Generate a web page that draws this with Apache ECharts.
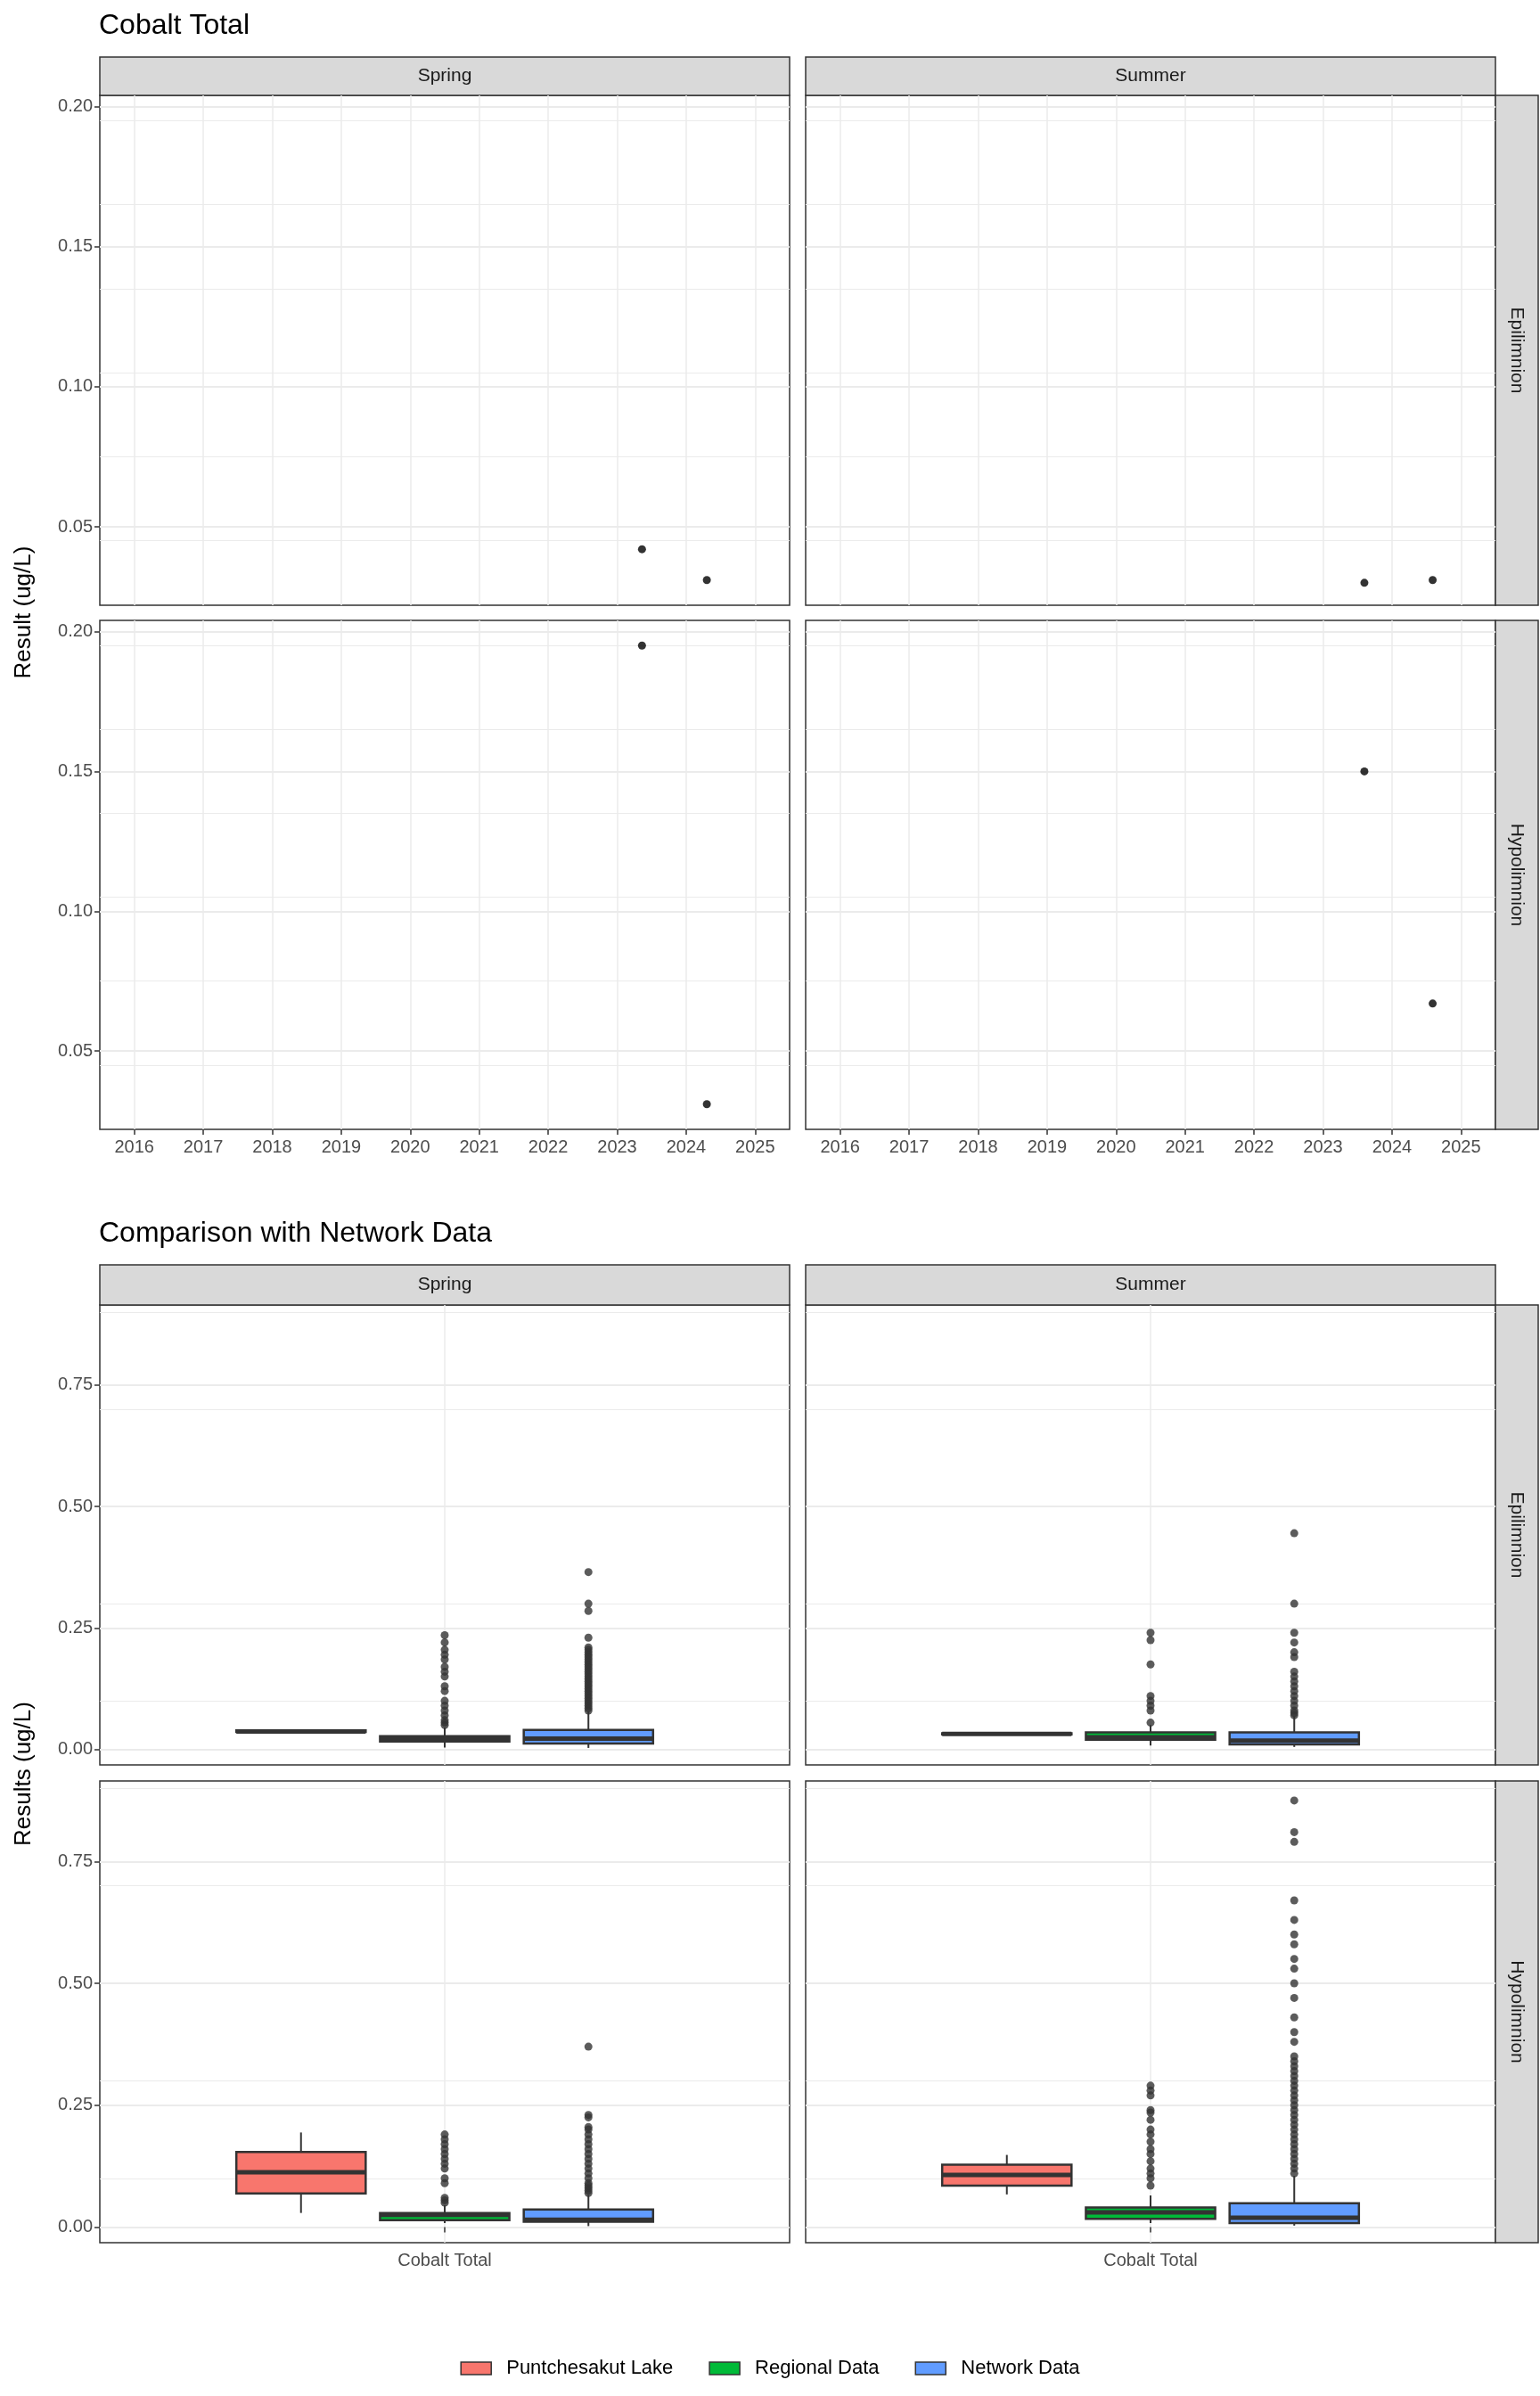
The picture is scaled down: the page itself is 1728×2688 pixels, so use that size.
<!DOCTYPE html>
<html lang="en">
<head>
<meta charset="UTF-8">
<title>Cobalt Total</title>
<script src="https://cdn.jsdelivr.net/npm/echarts@6/dist/echarts.min.js"></script>
<style>
  html, body { margin: 0; padding: 0; background: #fff; }
  #chart { width: 1728px; height: 2688px; }
</style>
</head>
<body>
<div id="chart"></div>
<script>
// ---- data ----
var seasons = ['Spring', 'Summer'];
var layers = ['Epilimnion', 'Hypolimnion'];
var groups = ['Puntchesakut Lake', 'Regional Data', 'Network Data'];
var groupColors = ['#F8766D', '#00BA38', '#619CFF'];
var groupPos = [0.75, 1.0, 1.25];
var yearLabels = [2016, 2017, 2018, 2019, 2020, 2021, 2022, 2023, 2024, 2025];
var topTicks = [0.05, 0.10, 0.15, 0.20];
var bottomTicks = [0, 0.25, 0.5, 0.75];

// time series points [decimal year, value], order: SpEpi, SuEpi, SpHyp, SuHyp
var ptsSpringEpi = [[2023.36, 0.042], [2024.30, 0.031]];
var ptsSummerEpi = [[2023.60, 0.030], [2024.59, 0.031]];
var ptsSpringHyp = [[2023.36, 0.195], [2024.30, 0.031]];
var ptsSummerHyp = [[2023.60, 0.150], [2024.59, 0.067]];

// box stats [low whisker, q1, median, q3, high whisker] per group
var boxSpringEpi = [[0.036, 0.036, 0.037, 0.039, 0.039], [0.004, 0.016, 0.022, 0.027, 0.045], [0.003, 0.012, 0.022, 0.040, 0.078]];
var boxSummerEpi = [[0.031, 0.031, 0.032, 0.033, 0.033], [0.008, 0.020, 0.025, 0.035, 0.050], [0.005, 0.010, 0.018, 0.035, 0.068]];
var boxSpringHyp = [[0.029, 0.069, 0.1125, 0.154, 0.194], [0.008, 0.014, 0.025, 0.029, 0.045], [0.002, 0.011, 0.015, 0.036, 0.066]];
var boxSummerHyp = [[0.067, 0.085, 0.107, 0.128, 0.148], [0.008, 0.017, 0.030, 0.040, 0.065], [0.003, 0.008, 0.019, 0.049, 0.105]];

// outliers per group (lake has none)
var outSpringEpi = [[], [0.05, 0.055, 0.06, 0.07, 0.08, 0.09, 0.1, 0.12, 0.13, 0.15, 0.16, 0.17, 0.185, 0.195, 0.205, 0.22, 0.235],
  [0.08, 0.085, 0.09, 0.095, 0.1, 0.105, 0.11, 0.115, 0.12, 0.125, 0.13, 0.135, 0.14, 0.145, 0.15, 0.155, 0.16, 0.165, 0.17, 0.175, 0.18, 0.185, 0.19, 0.195, 0.2, 0.205, 0.21, 0.23, 0.285, 0.3, 0.365]];
var outSummerEpi = [[], [0.055, 0.08, 0.09, 0.1, 0.11, 0.175, 0.225, 0.24],
  [0.07, 0.075, 0.08, 0.09, 0.1, 0.11, 0.12, 0.13, 0.14, 0.15, 0.16, 0.19, 0.2, 0.22, 0.24, 0.3, 0.445]];
var outSpringHyp = [[], [0.05, 0.055, 0.06, 0.09, 0.1, 0.12, 0.13, 0.14, 0.15, 0.16, 0.17, 0.18, 0.19],
  [0.07, 0.075, 0.08, 0.085, 0.09, 0.1, 0.11, 0.12, 0.13, 0.14, 0.15, 0.16, 0.17, 0.18, 0.19, 0.2, 0.205, 0.225, 0.23, 0.37]];
var outSummerHyp = [[], [0.085, 0.1, 0.11, 0.12, 0.135, 0.15, 0.16, 0.175, 0.19, 0.2, 0.22, 0.235, 0.24, 0.27, 0.28, 0.29],
  [0.11, 0.12, 0.13, 0.14, 0.15, 0.16, 0.17, 0.18, 0.19, 0.2, 0.21, 0.22, 0.23, 0.24, 0.25, 0.26, 0.27, 0.28, 0.29, 0.3, 0.31, 0.32, 0.33, 0.34, 0.35,
   0.38, 0.4, 0.43, 0.47, 0.5, 0.53, 0.55, 0.58, 0.6, 0.63, 0.67, 0.79, 0.81, 0.875]];

var ptsFacets = [ptsSpringEpi, ptsSummerEpi, ptsSpringHyp, ptsSummerHyp];
var boxFacets = [boxSpringEpi, boxSummerEpi, boxSpringHyp, boxSummerHyp];
var outFacets = [outSpringEpi, outSummerEpi, outSpringHyp, outSummerHyp];

// ---- layout ----
var colX = [[112, 886], [904, 1678]];
var topRows = [[107, 679], [696, 1267]];
var botRows = [[1464, 1980], [1998, 2516]];
var FONT = 'Liberation Sans, Arial, sans-serif';
var gridColor = '#ebebeb';

var grids = [], xAxes = [], yAxes = [], series = [], graphics = [];

function addGrid(c, r) {
  grids.push({ left: c[0], top: r[0], width: c[1] - c[0], height: r[1] - r[0],
    show: true, borderColor: '#333', borderWidth: 1.5, backgroundColor: '#fff' });
  return grids.length - 1;
}

function yAxisCfg(gi, min, max, ticks, showLabels) {
  return {
    type: 'value', gridIndex: gi, min: min, max: max,
    axisLine: { show: false },
    axisTick: { show: showLabels, length: 6, lineStyle: { color: '#333', width: 1.5 }, customValues: ticks },
    axisLabel: { show: showLabels, customValues: ticks, color: '#4d4d4d', fontSize: 20, fontFamily: FONT,
      formatter: function (v) { return v.toFixed(2); } },
    splitLine: { show: true, lineStyle: { color: gridColor, width: 2 } },
    minorTick: { show: false, splitNumber: 2 },
    minorSplitLine: { show: true, lineStyle: { color: gridColor, width: 1 } }
  };
}

for (var r = 0; r < 2; r++) {
  for (var c = 0; c < 2; c++) {
    var f = r * 2 + c;
    // ---- top: time series ----
    var gi = addGrid(colX[c], topRows[r]);
    xAxes.push({
      type: 'value', gridIndex: gi, min: 2015.5, max: 2025.5, interval: 0.5,
      axisLine: { show: false },
      axisTick: { show: r === 1, length: 6, lineStyle: { color: '#333', width: 1.5 }, customValues: yearLabels },
      axisLabel: { show: r === 1, customValues: yearLabels, color: '#4d4d4d', fontSize: 20, fontFamily: FONT, margin: 10,
        formatter: function (v) { return String(Math.round(v)); } },
      splitLine: { show: true, lineStyle: { color: gridColor, width: 1.5 } }
    });
    yAxes.push(yAxisCfg(gi, 0.022, 0.204, topTicks, c === 0));
    series.push({ type: 'scatter', xAxisIndex: gi, yAxisIndex: gi, data: ptsFacets[f],
      symbolSize: 9, itemStyle: { color: '#000' }, silent: true });

    // ---- bottom: box plots ----
    var gb = addGrid(colX[c], botRows[r]);
    xAxes.push({
      type: 'value', gridIndex: gb, min: 0.4, max: 1.6,
      axisLine: { show: false },
      axisTick: { show: r === 1, length: 6, lineStyle: { color: '#333', width: 1.5 }, customValues: [1] },
      axisLabel: { show: r === 1, customValues: [1], color: '#4d4d4d', fontSize: 20, fontFamily: FONT, margin: 10,
        formatter: function () { return 'Cobalt Total'; } },
      splitLine: { show: true, lineStyle: { color: gridColor, width: 1.5 } }
    });
    yAxes.push(yAxisCfg(gb, -0.032, 0.915, bottomTicks, c === 0));

    for (var g = 0; g < 3; g++) {
      var b = boxFacets[f][g];
      series.push({
        type: 'custom', name: groups[g], xAxisIndex: gb, yAxisIndex: gb,
        itemStyle: { color: groupColors[g] },
        data: [[groupPos[g]].concat(b)],
        encode: { x: 0, y: [1, 2, 3, 4, 5] },
        renderItem: function (params, api) {
          var x = api.value(0);
          var lo = api.coord([x, api.value(1)]), q1 = api.coord([x, api.value(2)]);
          var md = api.coord([x, api.value(3)]), q3 = api.coord([x, api.value(4)]);
          var hi = api.coord([x, api.value(5)]);
          var w = api.size([0.225, 0])[0];
          var x0 = lo[0] - w / 2;
          var stroke = { stroke: '#333', lineWidth: 2 };
          return { type: 'group', children: [
            { type: 'line', shape: { x1: lo[0], y1: hi[1], x2: lo[0], y2: q3[1] }, style: stroke },
            { type: 'line', shape: { x1: lo[0], y1: q1[1], x2: lo[0], y2: lo[1] }, style: stroke },
            { type: 'rect', shape: { x: x0, y: q3[1], width: w, height: Math.max(q1[1] - q3[1], 0.5) },
              style: { fill: api.visual('color'), stroke: '#333', lineWidth: 2.5 } },
            { type: 'line', shape: { x1: x0, y1: md[1], x2: x0 + w, y2: md[1] }, style: { stroke: '#333', lineWidth: 5 } }
          ] };
        }
      });
      var outs = outFacets[f][g].map(function (v) { return [groupPos[g], v]; });
      series.push({ type: 'scatter', xAxisIndex: gb, yAxisIndex: gb, data: outs, symbolSize: 9,
        itemStyle: { color: '#333' }, silent: true, z: 3 });
    }
  }
}

// strips
function strip(x, y, w, h, label, vertical) {
  graphics.push({ type: 'rect', shape: { x: x, y: y, width: w, height: h },
    style: { fill: '#d9d9d9', stroke: '#333', lineWidth: 1.5 } });
  graphics.push({ type: 'text', x: x + w / 2, y: y + h / 2, rotation: vertical ? -Math.PI / 2 : 0,
    style: { text: label, fill: '#1a1a1a', font: '21px ' + FONT, align: 'center', verticalAlign: 'middle' } });
}
for (var c2 = 0; c2 < 2; c2++) {
  strip(colX[c2][0], 64, colX[c2][1] - colX[c2][0], 43, seasons[c2], false);
  strip(colX[c2][0], 1419, colX[c2][1] - colX[c2][0], 45, seasons[c2], false);
}
for (var r2 = 0; r2 < 2; r2++) {
  strip(1678, topRows[r2][0], 48, topRows[r2][1] - topRows[r2][0], layers[r2], true);
  strip(1678, botRows[r2][0], 48, botRows[r2][1] - botRows[r2][0], layers[r2], true);
}
// titles
graphics.push({ type: 'text', x: 111, y: 29, style: { text: 'Cobalt Total', fill: '#000', font: '32px ' + FONT, verticalAlign: 'middle' } });
graphics.push({ type: 'text', x: 111, y: 1384, style: { text: 'Comparison with Network Data', fill: '#000', font: '32px ' + FONT, verticalAlign: 'middle' } });
graphics.push({ type: 'text', x: 27, y: 687, rotation: Math.PI / 2, style: { text: 'Result (ug/L)', fill: '#000', font: '26px ' + FONT, align: 'center', verticalAlign: 'middle' } });
graphics.push({ type: 'text', x: 27, y: 1990, rotation: Math.PI / 2, style: { text: 'Results (ug/L)', fill: '#000', font: '26px ' + FONT, align: 'center', verticalAlign: 'middle' } });

var option = {
  animation: false,
  backgroundColor: '#fff',
  grid: grids,
  xAxis: xAxes,
  yAxis: yAxes,
  legend: {
    data: groups, left: 'center', top: 2641, itemWidth: 34, itemGap: 40, icon: 'rect',
    itemStyle: { borderColor: '#333', borderWidth: 1.5 },
    textStyle: { fontSize: 22, color: '#000', fontFamily: FONT, padding: [0, 0, 0, 12] }
  },
  graphic: graphics,
  series: series
};
var myChart = echarts.init(document.getElementById('chart'));
myChart.setOption(option);
</script>
</body>
</html>
